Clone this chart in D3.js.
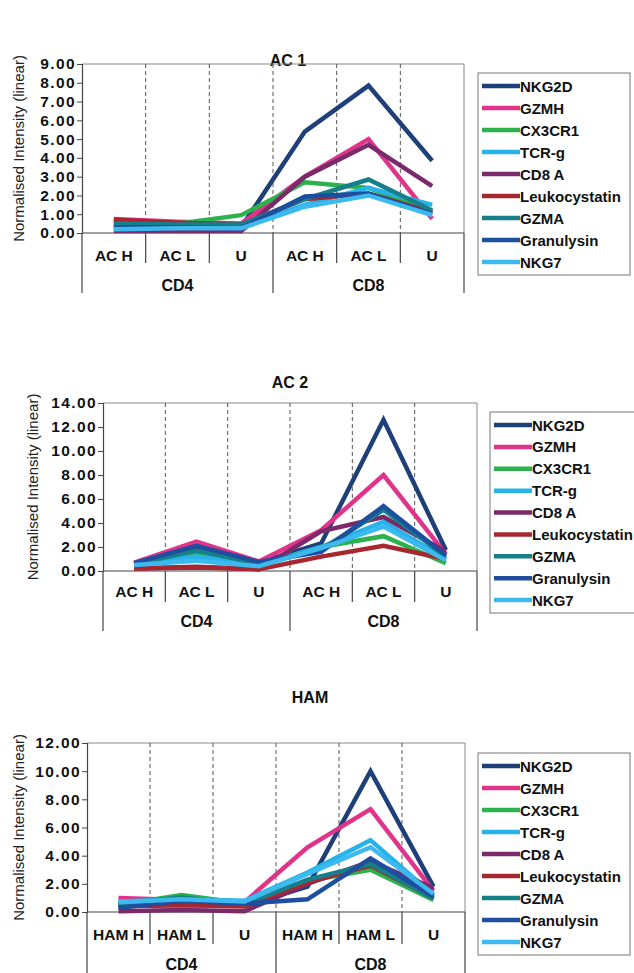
<!DOCTYPE html>
<html>
<head>
<meta charset="utf-8">
<script src="https://cdn.jsdelivr.net/npm/d3@7"></script>
<style>
  body { margin: 0; background: #fff; }
  svg { display: block; font-family: "Liberation Sans", Arial, sans-serif; }
</style>
</head>
<body>
<svg id="chart" width="634" height="973"></svg>
<script>
// series names (legend order) and line colours
var seriesNames = ["NKG2D", "GZMH", "CX3CR1", "TCR-g", "CD8 A", "Leukocystatin", "GZMA", "Granulysin", "NKG7"];
var seriesColors = ["#1e3f78", "#e0348a", "#2cb24d", "#27b3ea", "#7a2a6a", "#a8262f", "#16808a", "#1d4f9e", "#3cbaf0"];

var groupNames = ["CD4", "CD8"];
var acCategories = ["AC H", "AC L", "U", "AC H", "AC L", "U"];
var hamCategories = ["HAM H", "HAM L", "U", "HAM H", "HAM L", "U"];

var ac1Ticks = [0, 1, 2, 3, 4, 5, 6, 7, 8, 9];
var ac2Ticks = [0, 2, 4, 6, 8, 10, 12, 14];
var hamTicks = [0, 2, 4, 6, 8, 10, 12];

// values per series, same order as seriesNames
var ac1Values = [
  [0.35, 0.35, 0.30, 5.40, 7.85, 3.85],
  [0.75, 0.60, 0.50, 3.00, 5.00, 0.75],
  [0.60, 0.50, 0.95, 2.70, 2.40, 1.10],
  [0.25, 0.30, 0.30, 1.50, 2.40, 1.50],
  [0.10, 0.10, 0.10, 3.00, 4.70, 2.50],
  [0.70, 0.55, 0.45, 1.80, 2.10, 1.10],
  [0.50, 0.45, 0.45, 1.80, 2.85, 1.20],
  [0.30, 0.30, 0.25, 1.95, 2.10, 1.00],
  [0.20, 0.25, 0.25, 1.40, 2.00, 0.95]
];
var ac2Values = [
  [0.60, 2.00, 0.70, 2.30, 12.60, 1.75],
  [0.70, 2.45, 0.80, 3.40, 8.00, 1.40],
  [0.50, 1.50, 0.50, 2.00, 2.90, 0.65],
  [0.60, 1.20, 0.50, 2.00, 4.10, 1.00],
  [0.20, 0.35, 0.15, 3.30, 4.50, 1.60],
  [0.20, 0.30, 0.15, 1.20, 2.10, 1.00],
  [0.55, 1.70, 0.60, 1.80, 5.10, 1.20],
  [0.65, 2.10, 0.75, 1.60, 5.40, 1.30],
  [0.50, 0.85, 0.40, 1.90, 3.70, 0.90]
];
var hamValues = [
  [0.40, 0.50, 0.45, 1.80, 10.00, 1.80],
  [1.00, 0.85, 0.70, 4.60, 7.30, 1.50],
  [0.50, 1.20, 0.60, 2.20, 3.00, 0.85],
  [0.75, 0.90, 0.80, 2.80, 5.10, 1.20],
  [0.05, 0.15, 0.05, 2.00, 3.60, 1.70],
  [0.40, 0.50, 0.40, 2.10, 3.30, 1.00],
  [0.55, 1.05, 0.55, 2.30, 3.40, 0.95],
  [0.30, 0.80, 0.60, 0.90, 3.80, 1.10],
  [0.70, 0.90, 0.75, 2.70, 4.60, 1.30]
];

// panel layout
var panels = [
  { title: "AC 1", titleX: 288, titleY: 66, cats: acCategories, ticks: ac1Ticks, values: ac1Values,
    left: 82, right: 464, top: 64, bottom: 233, yLabelX: 19,
    catY: 261, groupY: 291, catLineEnd: 263, groupLineEnd: 293,
    legend: { x: 478, y: 73, w: 152, h: 202 } },
  { title: "AC 2", titleX: 290, titleY: 388, cats: acCategories, ticks: ac2Ticks, values: ac2Values,
    left: 103, right: 477, top: 403, bottom: 571, yLabelX: 33,
    catY: 597, groupY: 627, catLineEnd: 602, groupLineEnd: 631,
    legend: { x: 490, y: 412, w: 150, h: 201 } },
  { title: "HAM", titleX: 310, titleY: 703, cats: hamCategories, ticks: hamTicks, values: hamValues,
    left: 87, right: 465, top: 743, bottom: 912, yLabelX: 19,
    catY: 940, groupY: 970, catLineEnd: 944, groupLineEnd: 973,
    legend: { x: 478, y: 753, w: 152, h: 202 } }
];

var svg = d3.select("#chart");

panels.forEach(function(p){
  var g = svg.append("g");

  var x = d3.scaleBand()
    .domain(d3.range(p.cats.length))
    .range([p.left, p.right]);
  var y = d3.scaleLinear()
    .domain([0, d3.max(p.ticks)])
    .range([p.bottom, p.top]);

  // title
  g.append("text")
    .attr("x", p.titleX)
    .attr("y", p.titleY)
    .attr("text-anchor", "middle")
    .attr("font-size", 16)
    .attr("font-weight", "bold")
    .attr("fill", "#111")
    .text(p.title);

  // plot frame (top + right)
  g.append("path")
    .attr("d", "M" + p.left + "," + p.top + "H" + p.right + "V" + p.bottom)
    .attr("fill", "none")
    .attr("stroke", "#888")
    .attr("stroke-width", 1);

  // dashed separators inside the plot
  d3.range(1, p.cats.length).forEach(function(i){
    var xx = x(i);
    g.append("line")
      .attr("x1", xx).attr("x2", xx)
      .attr("y1", p.top).attr("y2", p.bottom)
      .attr("stroke", "#555")
      .attr("stroke-width", 1)
      .attr("stroke-dasharray", "4,3");
  });

  // separators below the axis: short between categories, long between groups
  d3.range(0, p.cats.length + 1).forEach(function(i){
    var xx = i == p.cats.length ? p.right : x(i);
    var isGroup = (i % 3 == 0);
    g.append("line")
      .attr("x1", xx).attr("x2", xx)
      .attr("y1", p.bottom)
      .attr("y2", isGroup ? p.groupLineEnd : p.catLineEnd)
      .attr("stroke", "#444")
      .attr("stroke-width", 1.2);
  });

  // y axis
  var yAxis = d3.axisLeft(y)
    .tickValues(p.ticks)
    .tickSize(5)
    .tickPadding(1)
    .tickFormat(d3.format(".2f"));
  var ya = g.append("g")
    .attr("transform", "translate(" + p.left + ",0)")
    .call(yAxis);
  ya.select(".domain").attr("stroke", "#444").attr("stroke-width", 1.2);
  ya.selectAll(".tick line").attr("stroke", "#444");
  ya.selectAll(".tick text")
    .attr("font-size", 15.5)
    .attr("font-weight", "bold")
    .attr("letter-spacing", 1.4)
    .attr("fill", "#111")
    .attr("font-family", "Liberation Sans, Arial, sans-serif");

  // zero line
  g.append("line")
    .attr("x1", p.left).attr("x2", p.right)
    .attr("y1", p.bottom).attr("y2", p.bottom)
    .attr("stroke", "#444")
    .attr("stroke-width", 1.2);

  // y axis title
  g.append("text")
    .attr("transform", "translate(" + (p.yLabelX + 5) + "," + ((p.top + p.bottom) / 2) + ") rotate(-90)")
    .attr("text-anchor", "middle")
    .attr("font-size", 15)
    .attr("fill", "#222")
    .text("Normalised Intensity (linear)");

  // category labels
  g.selectAll(".cat")
    .data(p.cats)
    .enter().append("text")
      .attr("x", function(d, i){ return x(i) + x.bandwidth() / 2; })
      .attr("y", p.catY)
      .attr("text-anchor", "middle")
      .attr("font-size", 15.5)
      .attr("font-weight", "bold")
      .attr("fill", "#111")
      .text(function(d){ return d; });

  // group labels
  g.selectAll(".grp")
    .data(groupNames)
    .enter().append("text")
      .attr("x", function(d, i){ return (x(i * 3) + x(i * 3 + 2) + x.bandwidth()) / 2; })
      .attr("y", p.groupY)
      .attr("text-anchor", "middle")
      .attr("font-size", 16)
      .attr("font-weight", "bold")
      .attr("fill", "#111")
      .text(function(d){ return d; });

  // series lines
  var line = d3.line()
    .x(function(d, i){ return x(i) + x.bandwidth() / 2; })
    .y(function(d){ return y(d); });

  g.selectAll(".series")
    .data(p.values)
    .enter().append("path")
      .attr("class", "series")
      .attr("fill", "none")
      .attr("stroke", function(d, i){ return seriesColors[i]; })
      .attr("stroke-width", 4.5)
      .attr("stroke-linejoin", "miter")
      .attr("d", function(d){ return line(d); });

  // legend
  var lg = p.legend;
  g.append("rect")
    .attr("x", lg.x).attr("y", lg.y)
    .attr("width", lg.w).attr("height", lg.h)
    .attr("fill", "#fff")
    .attr("stroke", "#777")
    .attr("stroke-width", 1);

  var step = (lg.h - 26) / (seriesNames.length - 1);
  var item = g.selectAll(".legend-item")
    .data(seriesNames)
    .enter().append("g")
      .attr("transform", function(d, i){ return "translate(" + lg.x + "," + (lg.y + 13 + i * step) + ")"; });

  item.append("line")
    .attr("x1", 4).attr("x2", 42)
    .attr("y1", 0).attr("y2", 0)
    .attr("stroke", function(d, i){ return seriesColors[i]; })
    .attr("stroke-width", 4.5);

  item.append("text")
    .attr("x", 42)
    .attr("y", 5.5)
    .attr("font-size", 15)
    .attr("font-weight", "bold")
    .attr("fill", "#111")
    .text(function(d){ return d; });
});
</script>
</body>
</html>
